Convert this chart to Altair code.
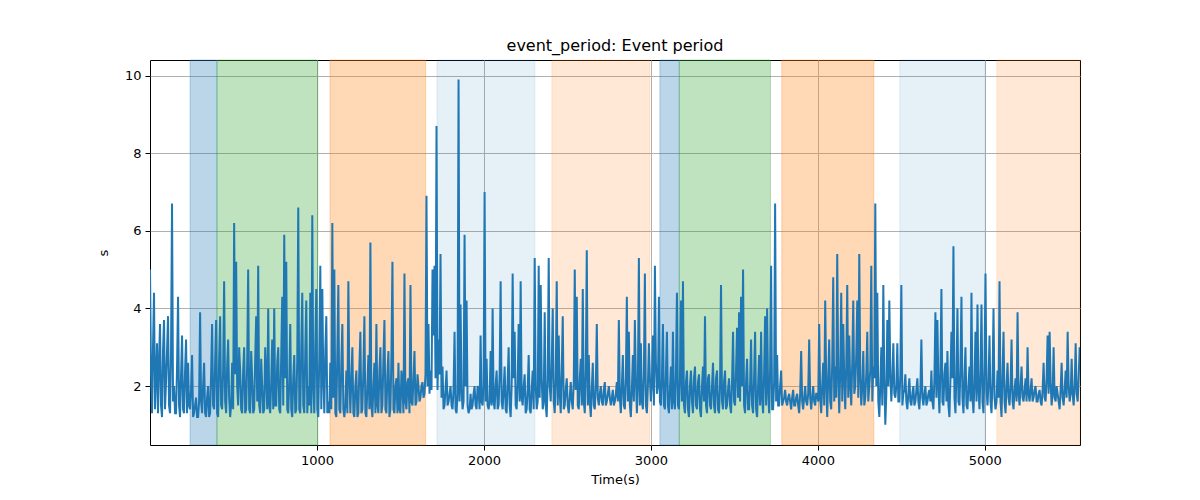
import altair as alt
import pandas as pd

# ---- data ----
STEP = 12  # seconds between main samples; in-between samples sit at +6 s
values = [
    5.0, 1.3, 4.4, 2.2, 1.3, 3.6, 1.2, 3.7, 2.1, 3.8,
    1.3, 6.7, 2.0, 1.3, 4.3, 1.2, 3.3, 1.3, 3.2, 2.6,
    1.4, 2.8, 1.3, 1.7, 1.2, 3.9, 1.3, 2.6, 1.2, 2.0,
    1.3, 3.6, 1.4, 3.7, 1.2, 3.8, 1.4, 4.7, 1.3, 3.2,
    1.2, 2.6, 6.2, 5.2, 1.5, 2.4, 1.3, 3.0, 1.4, 5.0,
    1.3, 2.2, 1.4, 3.8, 5.1, 1.3, 2.0, 1.4, 2.2, 4.0,
    1.3, 3.2, 4.0, 1.5, 3.0, 1.3, 4.3, 5.9, 5.2, 1.3,
    3.6, 1.2, 2.8, 1.4, 6.6, 1.3, 4.4, 1.3, 4.2, 2.0,
    4.4, 6.4, 1.3, 4.5, 1.2, 5.1, 4.5, 1.3, 3.8, 1.6,
    2.6, 6.2, 5.0, 1.2, 4.6, 1.3, 3.6, 1.2, 2.4, 4.7,
    1.3, 3.0, 1.2, 2.4, 1.3, 3.4, 1.4, 3.8, 1.2, 2.8,
    5.7, 1.2, 2.6, 3.6, 1.3, 3.0, 1.5, 3.7, 1.3, 2.9,
    1.4, 5.2, 1.3, 2.2, 2.6, 1.3, 2.0, 4.9, 1.4, 2.2,
    4.6, 1.5, 2.9, 1.6, 2.0, 1.7, 2.1, 1.8, 6.9, 3.6,
    2.4, 5.0, 5.1, 8.7, 3.2, 5.4, 2.5, 1.5, 2.4, 1.6,
    2.0, 1.4, 3.4, 1.3, 9.9, 4.1, 1.4, 5.9, 4.2, 1.3,
    1.8, 1.5, 2.0, 1.4, 1.9, 3.3, 1.5, 7.0, 2.7, 1.4,
    2.9, 4.0, 1.4, 2.4, 1.5, 4.7, 1.4, 2.5, 1.3, 3.0,
    1.2, 4.9, 3.4, 1.4, 3.6, 4.7, 1.5, 2.3, 1.4, 2.8,
    1.3, 2.4, 5.3, 1.4, 5.1, 4.6, 1.4, 3.9, 1.2, 5.3,
    1.6, 4.0, 1.3, 4.7, 3.3, 1.3, 3.8, 1.5, 2.2, 1.3,
    2.1, 1.4, 5.0, 4.3, 1.4, 2.7, 4.5, 1.3, 5.5, 2.8,
    1.2, 2.6, 1.4, 3.6, 1.5, 2.0, 1.5, 2.1, 1.6, 2.0,
    1.5, 1.9, 1.6, 2.1, 3.7, 1.3, 2.8, 1.4, 4.3, 3.4,
    1.2, 2.8, 3.7, 1.3, 5.3, 3.1, 1.4, 4.9, 1.3, 3.1,
    1.6, 3.3, 5.1, 1.8, 4.3, 1.5, 3.6, 1.4, 3.4, 1.3,
    2.5, 3.4, 1.4, 4.4, 1.4, 4.2, 4.7, 1.3, 2.4, 1.2,
    2.4, 1.3, 2.5, 1.4, 2.3, 1.2, 2.5, 3.8, 1.3, 2.3,
    1.4, 2.6, 1.3, 2.4, 1.3, 4.6, 1.4, 2.4, 1.5, 2.2,
    1.3, 3.4, 1.5, 3.5, 3.9, 4.3, 5.0, 1.3, 2.7, 1.4,
    3.2, 1.3, 3.4, 1.2, 2.8, 3.4, 1.3, 3.8, 4.0, 1.3,
    5.1, 1.4, 6.7, 2.8, 1.5, 2.4, 1.6, 1.9, 1.5, 1.8,
    1.4, 1.9, 1.5, 1.8, 1.3, 2.9, 1.4, 2.0, 1.5, 3.2,
    1.4, 2.0, 1.5, 1.8, 3.6, 1.3, 2.6, 4.2, 1.2, 3.2,
    1.4, 4.8, 2.5, 5.4, 1.3, 4.4, 3.6, 1.4, 4.6, 3.3,
    1.5, 4.2, 2.0, 4.2, 5.4, 1.5, 2.9, 1.7, 3.4, 2.0,
    5.1, 2.5, 6.7, 4.4, 1.2, 3.0, 4.6, 1.0, 3.7, 4.2,
    1.6, 3.1, 1.7, 3.1, 1.6, 4.6, 1.8, 2.3, 1.4, 2.2,
    1.5, 2.0, 1.6, 2.2, 1.4, 3.2, 1.5, 2.0, 1.6, 1.9,
    2.4, 1.4, 3.9, 3.7, 1.3, 4.5, 1.5, 2.6, 2.9, 1.2,
    3.4, 5.6, 1.3, 4.0, 1.5, 4.3, 1.3, 3.0, 1.4, 2.5,
    4.4, 1.3, 3.4, 4.1, 1.4, 4.1, 1.3, 4.9, 1.5, 3.3,
    1.3, 4.0, 1.4, 2.4, 4.7, 1.2, 3.4, 1.3, 2.6, 1.5,
    3.2, 1.4, 2.2, 3.9, 1.5, 2.5, 1.6, 2.2, 3.0, 1.6,
    2.2, 1.7, 2.0, 1.6, 1.9, 1.5, 2.6, 1.6, 3.3, 3.4,
    1.5, 3.0, 1.6, 1.8, 1.4, 2.6, 1.5, 2.4, 3.4, 1.6,
    2.7, 1.5, 3.1, 1.6, 3.0,
]
mid_values = [
    2.4, 3.0, 1.4, 3.1, 2.6, 1.5, 2.9, 1.4, 2.9, 1.5,
    2.9, 1.6, 1.3, 2.5, 1.5, 2.3, 1.4, 2.4, 1.3, 1.5,
    1.9, 1.2, 1.5, 1.2, 1.6, 1.6, 2.0, 1.3, 1.7, 1.2,
    2.3, 1.5, 2.6, 1.3, 2.7, 1.5, 2.4, 1.6, 2.5, 1.7,
    1.5, 1.4, 2.3, 2.0, 3.0, 1.4, 2.4, 1.3, 2.6, 1.4,
    2.9, 1.3, 2.7, 1.6, 1.5, 2.7, 1.3, 3.0, 1.4, 1.5,
    2.1, 1.4, 1.5, 2.6, 1.4, 2.8, 1.5, 2.2, 1.4, 2.1,
    1.4, 2.2, 1.3, 2.7, 1.4, 3.0, 1.5, 2.9, 1.3, 1.5,
    1.3, 2.0, 3.0, 1.4, 2.8, 1.4, 2.2, 2.9, 1.3, 1.3,
    1.4, 1.7, 1.3, 2.9, 1.4, 2.6, 1.4, 1.5, 1.3, 2.2,
    2.2, 1.3, 2.0, 1.2, 2.5, 1.3, 2.4, 1.3, 2.0, 1.4,
    1.5, 2.0, 1.3, 1.5, 2.4, 1.3, 2.7, 1.4, 2.3, 1.2,
    2.8, 1.4, 2.0, 1.3, 1.4, 2.4, 1.3, 1.6, 2.1, 1.3,
    1.6, 2.2, 1.5, 2.3, 1.6, 2.0, 1.7, 2.3, 2.0, 1.8,
    1.9, 3.3, 2.2, 1.9, 2.3, 1.7, 1.4, 1.9, 1.5, 1.8,
    1.5, 1.9, 1.4, 1.8, 1.6, 1.9, 1.6, 2.0, 1.5, 1.4,
    1.4, 1.8, 1.5, 2.0, 1.4, 1.6, 2.0, 1.6, 1.5, 1.6,
    1.5, 1.6, 2.0, 1.4, 2.3, 1.6, 1.9, 1.4, 2.1, 1.5,
    2.0, 2.2, 1.5, 2.1, 1.6, 1.7, 2.0, 1.3, 1.9, 1.4,
    1.9, 1.4, 2.0, 1.6, 1.7, 2.2, 1.6, 1.5, 2.2, 2.0,
    2.5, 1.6, 2.2, 1.5, 1.8, 2.4, 1.4, 1.9, 1.5, 1.7,
    1.6, 2.1, 1.9, 1.5, 2.2, 1.5, 1.6, 2.4, 1.5, 1.6,
    1.9, 1.5, 2.0, 1.7, 1.8, 1.6, 1.9, 1.5, 1.8, 1.7,
    1.7, 1.5, 1.8, 1.6, 1.7, 2.0, 1.5, 2.2, 1.6, 1.5,
    1.9, 1.6, 2.2, 2.0, 1.5, 1.6, 2.3, 1.5, 2.0, 2.2,
    2.1, 1.5, 2.6, 2.0, 1.6, 2.2, 1.5, 2.3, 1.5, 1.9,
    1.4, 1.6, 2.3, 1.5, 2.2, 1.6, 1.5, 2.1, 1.4, 2.0,
    1.6, 2.2, 1.5, 2.1, 1.4, 2.0, 1.6, 1.5, 2.2, 1.5,
    2.0, 1.5, 2.2, 1.4, 2.0, 1.6, 2.1, 1.4, 1.9, 1.5,
    2.1, 1.6, 2.4, 1.7, 1.6, 2.0, 1.5, 2.1, 1.4, 2.0,
    1.5, 2.2, 1.4, 2.0, 1.5, 1.7, 2.3, 1.5, 1.9, 2.4,
    1.4, 2.1, 1.6, 1.5, 2.0, 1.5, 1.7, 1.6, 1.7, 1.6,
    1.7, 1.5, 1.7, 1.5, 1.8, 1.6, 1.7, 1.6, 1.8, 1.7,
    1.7, 1.6, 1.8, 1.6, 1.7, 2.0, 1.5, 2.1, 2.2, 1.6,
    2.6, 1.6, 1.7, 2.3, 2.4, 1.6, 2.2, 2.5, 1.7, 2.0,
    2.6, 1.8, 2.8, 1.7, 2.2, 2.0, 1.5, 2.3, 1.6, 2.4,
    1.6, 2.2, 2.0, 1.6, 2.0, 1.5, 2.2, 1.8, 2.0, 2.3,
    2.2, 1.8, 2.0, 1.6, 2.3, 1.5, 1.9, 1.6, 1.8, 1.6,
    1.8, 1.5, 1.9, 1.6, 1.9, 1.7, 1.8, 1.5, 1.8, 1.6,
    1.6, 2.2, 1.7, 2.0, 2.4, 1.6, 2.3, 1.6, 1.5, 2.2,
    2.2, 1.7, 2.3, 1.6, 2.5, 1.7, 2.2, 1.5, 2.0, 1.6,
    1.7, 2.1, 1.6, 1.9, 2.3, 1.6, 2.5, 1.9, 2.1, 1.6,
    2.1, 1.7, 1.6, 1.7, 1.6, 2.3, 1.6, 2.0, 1.7, 2.0,
    1.6, 1.9, 1.6, 1.8, 2.0, 1.7, 1.9, 1.6, 1.8, 1.9,
    1.6, 1.9, 1.6, 1.8, 1.6, 1.9, 1.7, 2.2, 1.8, 2.1,
    1.8, 1.7, 2.0, 1.6, 1.9, 1.7, 1.9, 1.7, 2.0, 1.8,
    1.8, 2.0, 1.8, 2.2,
]

span_start = [240, 401, 1078, 1719, 2407, 3054, 3170, 3784, 4491, 5072]
span_end = [401, 1005, 1651, 2305, 2993, 3170, 3716, 4335, 5002, 5570]
span_color = ["#1f77b4", "#2ca02c", "#ff7f0e", "#1f77b4", "#ff7f0e",
              "#1f77b4", "#2ca02c", "#ff7f0e", "#1f77b4", "#ff7f0e"]
span_alpha = [0.3, 0.3, 0.3, 0.11, 0.17, 0.3, 0.3, 0.3, 0.11, 0.17]

x_ticks = [1000, 2000, 3000, 4000, 5000]
y_ticks = [2, 4, 6, 8, 10]
x_domain = [0, 5570]
y_domain = [0.48, 10.4]

main = pd.DataFrame({"t": [i * STEP for i in range(len(values))], "v": values})
mids = pd.DataFrame({"t": [i * STEP + STEP // 2 for i in range(len(mid_values))],
                     "v": mid_values})
series = pd.concat([main, mids]).sort_values("t").reset_index(drop=True)
spans = pd.DataFrame({"start": span_start, "end": span_end,
                      "col": span_color, "a": span_alpha})

FONT = "DejaVu Sans"
xscale = alt.Scale(domain=x_domain, nice=False, zero=False)
yscale = alt.Scale(domain=y_domain, nice=False, zero=False)

xaxis = alt.Axis(values=x_ticks, title="Time(s)", format="d", grid=True)
yaxis = alt.Axis(values=y_ticks, title="s", format="d", grid=True)

rects = alt.Chart(spans).mark_rect(strokeWidth=1).encode(
    x=alt.X("start:Q", scale=xscale, axis=xaxis),
    x2="end:Q",
    y=alt.datum(y_domain[0], scale=yscale, axis=yaxis),
    y2=alt.datum(y_domain[1]),
    fill=alt.Fill("col:N", scale=None),
    stroke=alt.Stroke("col:N", scale=None),
    fillOpacity=alt.FillOpacity("a:Q", scale=None),
    strokeOpacity=alt.StrokeOpacity("a:Q", scale=None),
)

line = alt.Chart(series).mark_line(color="#1f77b4", strokeWidth=2, clip=True).encode(
    x=alt.X("t:Q", scale=xscale, axis=xaxis),
    y=alt.Y("v:Q", scale=yscale, axis=yaxis),
    order="t:Q",
)

chart = alt.layer(rects, line).properties(
    width=930,
    height=385,
    title=alt.TitleParams("event_period: Event period", font=FONT, fontSize=16,
                          fontWeight="normal", color="black", offset=6),
    autosize=alt.AutoSizeParams(type="none"),
    padding={"left": 142, "top": 52, "right": 100, "bottom": 40},
).configure_view(
    stroke="black", strokeWidth=1,
).configure_axis(
    labelFont=FONT, titleFont=FONT, labelFontSize=13, titleFontSize=13,
    titleFontWeight="normal", labelColor="black", titleColor="black",
    tickColor="black", tickSize=5, domain=False,
    gridColor="#b0b0b0", gridWidth=1, labelPadding=4,
).configure_axisX(
    titlePadding=6,
).configure_axisY(
    titlePadding=14,
)

chart.save("out.html", embed_options={"renderer": "svg", "actions": False})
